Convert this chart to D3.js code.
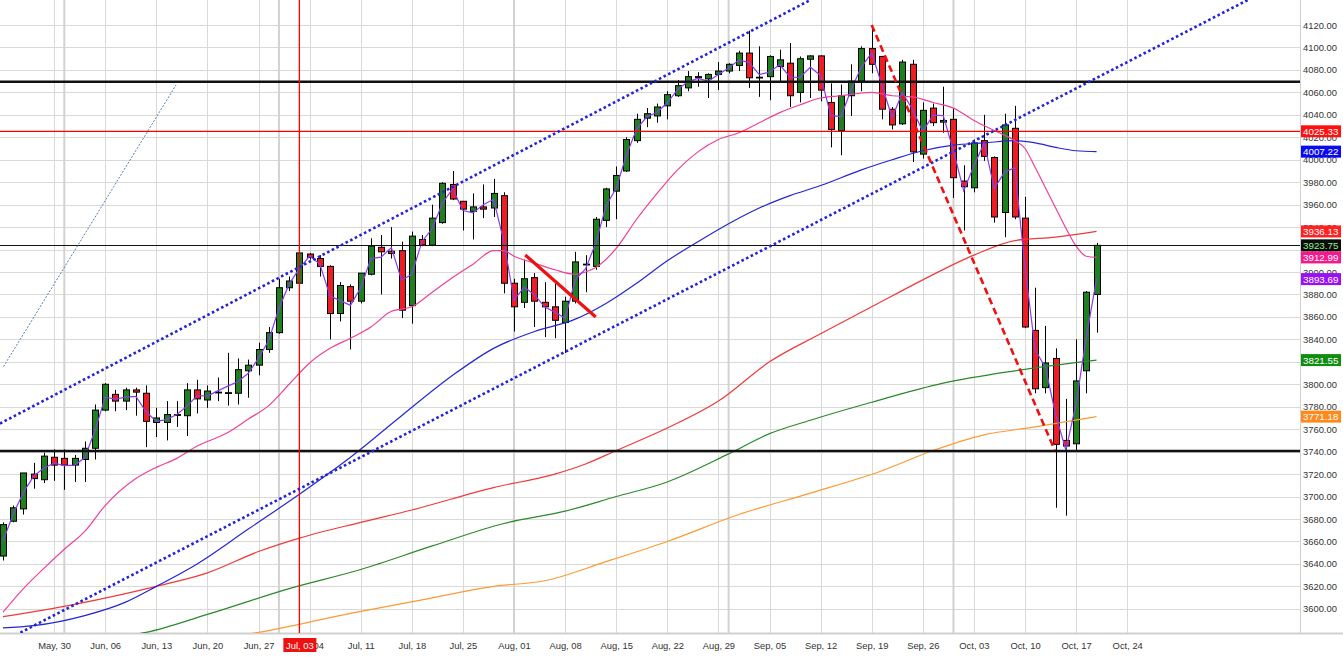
<!DOCTYPE html>
<html><head><meta charset="utf-8">
<script src="https://cdn.jsdelivr.net/npm/d3@7/dist/d3.min.js"></script>
<style>
html,body{margin:0;padding:0;background:#fff;}
svg{display:block;font-family:"Liberation Sans",Arial,sans-serif;}
</style></head>
<body><svg id="c" width="1343" height="662"></svg>
<script>
// ---- DATA ----
const opens  = [3647,3678,3689,3720,3715,3735,3734,3728,3733,3743,3777,3791,3785,3795,3792,3766,3766,3772.5,3772,3795,
3786,3792.5,3792,3792,3812,3817,3831,3846,3886,3890,3916,3912,3905,3863,3887,3874,3898,3922,3918.5,3919,
3870,3929,3924,3944,3978,3963,3954,3958,3957,3968,3890,3873,3895,3873,3869,3855,3874,3907,3905,3946,
3972,3990,4017,4037,4039,4048,4057,4064,4073,4072,4076,4079,4084,4095,4073,4074,4083,4086,4060,4089.5,
4092.5,4051,4026,4057,4070,4099,4092,4045,4032,4085,4005,4046,4033.5,4036,3981,3975,4017,4002,3953,4028,
3948,3848,3797,3823,3750,3747,3812,3880];
const highs  = [3677,3692,3721,3730,3739,3742,3742,3737,3749,3782,3801,3795,3797,3797,3799,3779,3785,3785,3801,3804,
3799,3806,3828,3823,3822,3837,3851,3894,3896,3917,3917,3915,3906,3891,3889,3899,3930,3933,3940,3927,
3936,3933,3960,3980,3990,3963,3970,3978,3983,3971,3894,3911,3899,3891,3890,3878,3918,3915,3949,3975,
3994,4020,4041,4046,4050,4061,4071,4079,4078,4077,4087,4086,4097,4115,4101,4093,4098,4104,4092,4093,
4093,4068,4067,4085,4101,4120,4092.5,4047,4089,4089,4051,4050,4065,4046,3995,4018,4040,4003,4041,4048,
3967,3886,3852,3832,3787,3840,3883,3926];
const lows   = [3643,3677,3684,3707,3712,3714,3706,3713,3713,3733,3776,3776,3777,3772,3744,3753,3750,3762,3754,3774,
3779,3785,3781,3782,3788,3808,3828,3845,3883,3889,3911,3896,3840,3856,3831,3872,3897,3880,3912,3859,
3854,3923,3923,3943,3964,3937,3929,3948,3949,3881,3847,3868,3851,3842,3841,3828,3872,3882,3902,3940,
3947,3989,4015,4029,4033,4036,4056,4061,4065,4055,4062,4077,4079,4064,4056,4053,4069,4047,4051,4055,
4052,4011,4004,4039,4061,4077,4036,4027,4031,3998,4001,4030,4024,3966,3937,3971,3999,3944,3931,3947,
3850,3792,3792,3690,3683,3741,3792,3846];
const closes = [3675,3690,3721,3716,3736,3728,3728,3734,3743,3777,3800,3785,3795,3793,3767,3770,3773,3773,3795,3787,
3794,3793,3792.5,3813,3817,3831,3846,3886,3892,3917,3913,3905,3863,3888,3874,3899,3923,3918,3916.5,3866,
3932,3924,3948,3979,3965,3956,3958,3956,3970,3890,3869,3894,3874,3869,3857,3874,3909,3907,3947,3974,
3986,4018,4036,4041,4047,4058,4066,4074,4074,4076,4079,4085,4095,4073,4073.5,4092,4089,4057,4090,4092.5,
4062,4027,4057,4070,4099,4085,4045,4031,4087,4007,4044,4033,4035,3984,3976,4015,4003,3949,4031,3949,
3851,3796,3819,3746.5,3745,3803,3882,3923.75];

// x-axis week labels (Mondays) and their bar index
const weekLabels = ["May, 30","Jun, 06","Jun, 13","Jun, 20","Jun, 27","Jul, 04","Jul, 11","Jul, 18","Jul, 25","Aug, 01","Aug, 08",
"Aug, 15","Aug, 22","Aug, 29","Sep, 05","Sep, 12","Sep, 19","Sep, 26","Oct, 03","Oct, 10","Oct, 17","Oct, 24"];
const weekIdx = [5,10,15,20,25,30,35,40,45,50,55,60,65,70,75,80,85,90,95,100,105,110];
const monthIdx = [6,27,50,71,93];
const priceTicks = [3600,3620,3640,3660,3680,3700,3720,3740,3760,3780,3800,3820,3840,3860,3880,3900,3920,3940,3960,3980,4000,4020,4040,4060,4080,4100,4120];

// moving averages: [bar index, value]
const maPink = [[0,3597],[2,3618],[4,3636],[6,3653],[8,3669],[10,3692],[13,3716],[15,3726],[17,3734],[19,3745],[22,3757],[24,3769],[26,3781],[28,3800],[30,3819],[32,3832],[34,3841],[36,3851],[38,3865],[40,3869],[42,3882],[44,3895],[46,3907],[48,3919],[49,3919],[50,3914],[52,3908],[54,3902],[56,3898],[57,3900],[58,3904],[60,3921],[62,3947],[64,3970],[66,3991],[68,4007],[70,4018],[72,4024],[74,4033],[76,4042],[78,4049],[80,4055],[82,4057],[85,4060],[87,4057],[89,4056],[91,4051],[93,4046],[95,4035],[97,4026],[99,4017],[100,4010],[101,3993],[102,3975],[103,3957],[104,3939],[105,3923],[106,3914],[107,3912.99]];
const maBlue = [[0,3583],[3,3585],[8,3594],[12,3606],[15,3620],[19,3640],[24,3671],[29,3702],[34,3735],[39,3772],[44,3808],[48,3832],[52,3847],[56,3858],[59,3872],[62,3890],[65,3910],[68,3927],[71,3943],[74,3957],[77,3968],[80,3977],[84,3991],[87,4000],[90,4008],[93,4013],[96,4015],[99,4017],[101,4015],[103,4011],[105,4008],[107,4007.22]];
const maRed = [[0,3593],[7,3604],[15,3620],[20,3632],[25,3651],[29,3663],[35,3677],[40,3688],[48,3708],[54,3720],[57,3729],[60,3741],[65,3761],[70,3785],[75,3820],[80,3845],[85,3869],[90,3893],[95,3915],[99,3928],[103,3931],[107,3936.13]];
const maGreen = [[12,3576],[14,3579],[20,3595],[28,3618],[35,3635],[42,3656],[49,3676],[55,3687],[60,3700],[65,3713],[71,3738],[75,3756],[79,3768],[85,3784],[92,3801],[99,3812],[107,3821.55]];
const maOrange = [[23,3576],[25,3579],[34,3596],[41,3608],[48,3620],[53,3625],[59,3642],[65,3660],[72,3684],[79,3703],[86,3723],[91,3741],[96,3755],[101,3762],[107,3771.18]];

// drawn annotations: [bar index, price]
const hLevelsBold = [4069.5, 3740.5];
const hLevelThin = 3923.75;
const crossPrice = 4025.33, crossIdx = 29, crossLabel = "Jul, 03";
const chanUpper = [[-0.3,3765],[79,4142.3]];
const chanLower = [[1.7,3578.8],[121.8,4142.3]];
const thinDotted = [[0.05,3815.7],[16.93,4066.6]];
const redDashed = [[85,4120],[102.9,3741.5]];
const redSolid = [[51.1,3915.2],[58,3859.9]];

const markerVals = [4025.33,4007.22,3936.13,3923.75,3912.99,3893.69,3821.55,3771.18];
const markerBg   = ["#ff1010","#0a0af0","#ff2020","#0a0a0a","#f5198c","#9a10f5","#108c10","#ff8a1c"];
const markerFg   = ["#fff","#fff","#fff","#8cf58c","#fff","#fff","#fff","#fff"];

// ---- CHART ----
const svg = d3.select("#c");
const PR = 1300, PB = 633;
const x = d3.scaleLinear().domain([0,110]).range([3, 3+110*10.22]);
const y = d3.scaleLinear().domain([3680,4120]).range([519, 519-440*1.1227]);

svg.append("defs").append("clipPath").attr("id","clip")
  .append("rect").attr("x",0).attr("y",0).attr("width",PR).attr("height",PB);

const grid = svg.append("g");
grid.selectAll("line.h").data(priceTicks).join("line")
  .attr("x1",0).attr("x2",PR).attr("y1",d=>Math.round(y(d))+0.5).attr("y2",d=>Math.round(y(d))+0.5)
  .attr("stroke","#d9d9d9").attr("stroke-width",1);
grid.selectAll("line.v").data(weekIdx).join("line")
  .attr("x1",d=>Math.round(x(d))+0.5).attr("x2",d=>Math.round(x(d))+0.5).attr("y1",0).attr("y2",PB)
  .attr("stroke","#d9d9d9").attr("stroke-width",1);
grid.selectAll("line.m").data(monthIdx).join("line")
  .attr("x1",d=>x(d)).attr("x2",d=>x(d)).attr("y1",0).attr("y2",PB)
  .attr("stroke","#d2d2d2").attr("stroke-width",2);

// axis frame
svg.append("line").attr("x1",PR+0.5).attr("x2",PR+0.5).attr("y1",0).attr("y2",PB).attr("stroke","#cfcfcf");
svg.append("line").attr("x1",0).attr("x2",1343).attr("y1",PB+0.5).attr("y2",PB+0.5).attr("stroke","#d0d0d0").attr("stroke-width",2);

// y axis labels
const yAxis = d3.axisRight(y).tickValues(priceTicks).tickFormat(d3.format(".2f")).tickSize(0).tickPadding(3);
const ya = svg.append("g").attr("transform",`translate(${PR},0)`).call(yAxis);
ya.select(".domain").remove();
ya.selectAll("text").attr("font-size","9.4px").attr("fill","#333").attr("font-family","Liberation Sans, Arial, sans-serif");

// x axis labels
const xAxis = d3.axisBottom(x).tickValues(weekIdx).tickFormat((d,i)=>weekLabels[i]).tickSize(0).tickPadding(9);
const xa = svg.append("g").attr("transform",`translate(0,${PB})`).call(xAxis);
xa.select(".domain").remove();
xa.selectAll("text").attr("font-size","9.4px").attr("fill","#333").attr("font-family","Liberation Sans, Arial, sans-serif");

const plot = svg.append("g").attr("clip-path","url(#clip)");

// candles
const idx = d3.range(closes.length);
const cg = plot.append("g");
cg.selectAll("line").data(idx).join("line")
  .attr("x1",i=>Math.round(x(i))+0.5).attr("x2",i=>Math.round(x(i))+0.5)
  .attr("y1",i=>y(highs[i])).attr("y2",i=>y(lows[i]))
  .attr("stroke","#000").attr("stroke-width",1);
cg.selectAll("rect").data(idx).join("rect")
  .attr("x",i=>Math.round(x(i))-2.5).attr("width",6)
  .attr("y",i=>y(Math.max(opens[i],closes[i])))
  .attr("height",i=>Math.max(0.8,Math.abs(y(opens[i])-y(closes[i]))))
  .attr("fill",i=>closes[i]>=opens[i]?"#1f801f":"#f01c24")
  .attr("stroke","#000").attr("stroke-width",1);

// moving averages
const ma = d3.line().x(d=>x(d[0])).y(d=>y(d[1])).curve(d3.curveMonotoneX);
[[maOrange,"#ff9a33"],[maGreen,"#2a8a2a"],[maRed,"#f03a3a"],[maBlue,"#2525d8"],[maPink,"#f0409a"]].forEach(([d,c])=>{
  plot.append("path").datum(d).attr("d",ma).attr("fill","none").attr("stroke",c).attr("stroke-width",1.2);
});
// average price line
const avgLine = d3.line().x(i=>x(i)).y(i=>y((opens[i]+highs[i]+lows[i]+closes[i])/4));
plot.append("path").datum(idx).attr("d",avgLine).attr("fill","none").attr("stroke","#8a3cf0").attr("stroke-width",1.2);

// horizontal levels
const lin = d3.line().x(d=>x(d[0])).y(d=>y(d[1]));
hLevelsBold.forEach(v=>{
  plot.append("line").attr("x1",0).attr("x2",PR).attr("y1",y(v)).attr("y2",y(v)).attr("stroke","#111").attr("stroke-width",2.5);
});
plot.append("line").attr("x1",0).attr("x2",PR).attr("y1",Math.round(y(hLevelThin))+0.5).attr("y2",Math.round(y(hLevelThin))+0.5).attr("stroke","#111").attr("stroke-width",1);
plot.append("line").attr("x1",0).attr("x2",PR).attr("y1",y(crossPrice)).attr("y2",y(crossPrice)).attr("stroke","#ff0000").attr("stroke-width",1.3);
plot.append("line").attr("x1",x(crossIdx)).attr("x2",x(crossIdx)).attr("y1",0).attr("y2",PB).attr("stroke","#ff0000").attr("stroke-width",1.3);

// trend lines
[chanUpper,chanLower].forEach(d=>{
  plot.append("path").datum(d).attr("d",lin).attr("fill","none").attr("stroke","#2323d8").attr("stroke-width",2.6).attr("stroke-dasharray","2.6,2.6");
});
plot.append("path").datum(thinDotted).attr("d",lin).attr("fill","none").attr("stroke","#5a7fb0").attr("stroke-width",1).attr("stroke-dasharray","2,1.5");
plot.append("path").datum(redDashed).attr("d",lin).attr("fill","none").attr("stroke","#ee1111").attr("stroke-width",2.6).attr("stroke-dasharray","7,4");
plot.append("path").datum(redSolid).attr("d",lin).attr("fill","none").attr("stroke","#ee1111").attr("stroke-width",3.2);

// right markers
const mk = svg.append("g");
markerVals.forEach((v,i)=>{
  const cy = y(v);
  mk.append("rect").attr("x",PR+1).attr("y",cy-6).attr("width",40).attr("height",12).attr("fill",markerBg[i]);
  mk.append("text").attr("x",PR+3).attr("y",cy+3.6).attr("font-size","9.8px").attr("fill",markerFg[i]).text(d3.format(".2f")(v));
});

// crosshair date label
const cx = x(crossIdx);
svg.append("rect").attr("x",cx-16).attr("y",638).attr("width",33).attr("height",14).attr("fill","#ee1111");
svg.append("text").attr("x",cx+0.5).attr("y",648.5).attr("text-anchor","middle").attr("font-size","9.4px").attr("fill","#fff").text(crossLabel);
</script></body></html>
